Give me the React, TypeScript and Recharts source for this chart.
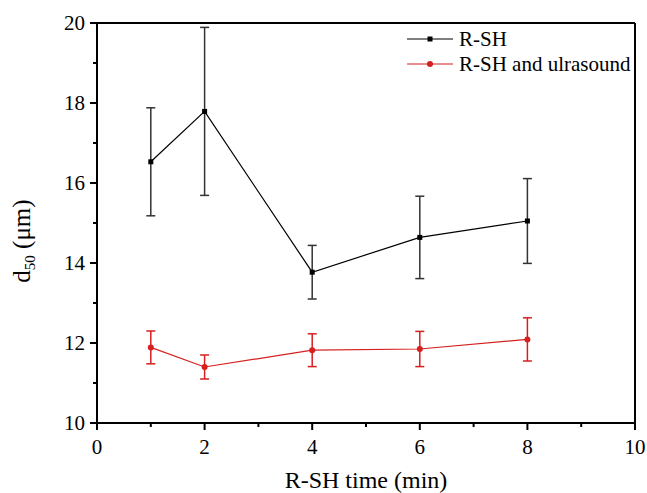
import React from "react"
import { LineChart, Line, XAxis, YAxis, ErrorBar, ReferenceLine } from "recharts"

const times = [1, 2, 4, 6, 8]
const rshValues = [16.53, 17.79, 13.77, 14.64, 15.05]
const rshErrors = [1.35, 2.1, 0.67, 1.03, 1.06]
const usValues = [11.89, 11.4, 11.82, 11.85, 12.09]
const usErrors = [0.41, 0.3, 0.41, 0.44, 0.54]

const xTicks = [0, 1, 2, 3, 4, 5, 6, 7, 8, 9, 10]
const yTicks = [10, 11, 12, 13, 14, 15, 16, 17, 18, 19, 20]

const RED = "#d61f1f"
const FONT = { fontFamily: "'Liberation Serif', 'Times New Roman', serif" }

const data = times.map((t, i) => ({
  t,
  rsh: rshValues[i],
  rshErr: rshErrors[i],
  us: usValues[i],
  usErr: usErrors[i],
}))

const XTick = (props: any) => {
  const { x, y, payload } = props
  const major = payload.value % 2 === 0
  return (
    <g>
      <line x1={x} x2={x} y1={y} y2={y + (major ? 7 : 4)} stroke="#000" strokeWidth={2} />
      {major && (
        <text x={x} y={y + 31} textAnchor="middle" fontSize={21} style={FONT} fill="#000">
          {payload.value}
        </text>
      )}
    </g>
  )
}

const YTick = (props: any) => {
  const { x, y, payload } = props
  const major = payload.value % 2 === 0
  return (
    <g>
      <line x1={x} x2={x - (major ? 7 : 4)} y1={y} y2={y} stroke="#000" strokeWidth={2} />
      {major && (
        <text x={x - 12} y={y + 7} textAnchor="end" fontSize={21} style={FONT} fill="#000">
          {payload.value}
        </text>
      )}
    </g>
  )
}

const Square = (props: any) => {
  const { cx, cy } = props
  return <rect x={cx - 2.5} y={cy - 2.5} width={5} height={5} fill="#000" />
}

const Dot = (props: any) => {
  const { cx, cy } = props
  return <circle cx={cx} cy={cy} r={3} fill={RED} />
}

// legend drawn over the chart, top right inside the frame
const LegendBox = () => (
  <svg width={236} height={72} style={{ position: "absolute", left: 404, top: 19 }}>
    <line x1={3} x2={49} y1={20} y2={20} stroke="#000" strokeWidth={1.2} />
    <rect x={23.5} y={17.5} width={5} height={5} fill="#000" />
    <text x={55} y={27} fontSize={21} style={FONT}>R-SH</text>
    <line x1={3} x2={49} y1={45} y2={45} stroke={RED} strokeWidth={1.2} />
    <circle cx={26} cy={45} r={3} fill={RED} />
    <text x={55} y={52} fontSize={21} style={FONT}>R-SH and ulrasound</text>
  </svg>
)

const XLabel = (props: any) => {
  const { x, width } = props.viewBox
  return (
    <text x={x + width / 2} y={488} textAnchor="middle" fontSize={24} style={FONT} fill="#000">
      R-SH time (min)
    </text>
  )
}

const YLabel = () => (
  <text transform="translate(30,241) rotate(-90)" textAnchor="middle" fontSize={25} style={FONT} fill="#000">
    d<tspan fontSize={15} dy={5}>50</tspan>
    <tspan dy={-5}> (μm)</tspan>
  </text>
)

export default function App() {
  return (
    <div style={{ position: "absolute", left: 0, top: 0, width: 647, height: 493, background: "#fff" }}>
      <LineChart width={647} height={493} data={data} margin={{ top: 23, right: 12, left: 0, bottom: 0 }}>
        <XAxis
          dataKey="t"
          type="number"
          domain={[0, 10]}
          ticks={xTicks}
          interval={0}
          tickLine={false}
          tickSize={0}
          tickMargin={0}
          tick={<XTick />}
          height={70}
          axisLine={{ stroke: "#000", strokeWidth: 2 }}
          label={<XLabel />}
        />
        <YAxis
          type="number"
          domain={[10, 20]}
          ticks={yTicks}
          interval={0}
          tickLine={false}
          tickSize={0}
          tickMargin={0}
          tick={<YTick />}
          width={97}
          axisLine={{ stroke: "#000", strokeWidth: 2 }}
          label={<YLabel />}
        />
        <ReferenceLine y={20} stroke="#000" strokeWidth={2} />
        <ReferenceLine x={10} stroke="#000" strokeWidth={2} />
        <Line
          dataKey="rsh"
          name="R-SH"
          stroke="#000"
          strokeWidth={1.2}
          dot={<Square />}
          isAnimationActive={false}
        >
          <ErrorBar dataKey="rshErr" direction="y" width={4.5} stroke="#333" strokeWidth={1.5} />
        </Line>
        <Line
          dataKey="us"
          name="R-SH and ulrasound"
          stroke={RED}
          strokeWidth={1.2}
          dot={<Dot />}
          isAnimationActive={false}
        >
          <ErrorBar dataKey="usErr" direction="y" width={4.5} stroke={RED} strokeWidth={1.5} />
        </Line>
      </LineChart>
      <LegendBox />
    </div>
  )
}
